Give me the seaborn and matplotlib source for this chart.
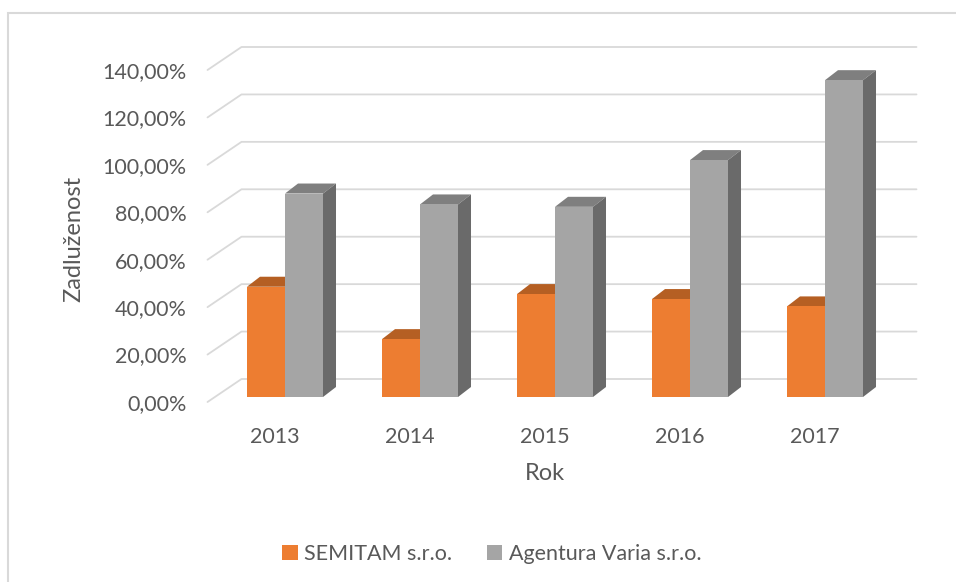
import numpy as np
import pandas as pd
import matplotlib
matplotlib.use("Agg")
import matplotlib.pyplot as plt
from matplotlib.patches import Polygon, Rectangle, Patch
import seaborn as sns

# data
years = ['2013', '2014', '2015', '2016', '2017']
semitam = [46.5, 24.4, 43.4, 41.3, 38.2]
agentura = [85.8, 81.2, 80.2, 99.9, 133.6]
series_names = ['SEMITAM s.r.o.', 'Agentura Varia s.r.o.']
y_ticks = [0, 20, 40, 60, 80, 100, 120, 140]

front_cols = ['#ED7D31', '#A5A5A5']
top_cols = ['#B55F23', '#7F7F7F']
side_cols = ['#A0521D', '#6A6A6A']
text_col = '#595959'

df = pd.DataFrame({
    'Rok': years * 2,
    'Firma': [series_names[0]] * len(years) + [series_names[1]] * len(years),
    'value': semitam + agentura,
})

sns.set_theme(style='white')
plt.rcParams['font.family'] = ['Lato', 'DejaVu Sans']

W, H = 956, 582
fig = plt.figure(figsize=(W / 100, H / 100), dpi=100)
# front plane of the pseudo-3D plot area in pixels
left_px, right_px, top_px, bot_px = 207.5, 882.5, 70, 402
ax = fig.add_axes([left_px / W, 1 - bot_px / H,
                   (right_px - left_px) / W, (bot_px - top_px) / H])
ax.set_xlim(-0.5, 4.5)
ax.set_ylim(0, 140)

ux = (right_px - left_px) / 5.0      # px per category
uy = (bot_px - top_px) / 140.0       # px per percent

# back wall offset and bar depth (pixels -> data)
wall_dx, wall_dy = 34 / ux, 23 / uy
front_dx, front_dy = 10 / ux, 5 / uy
depth_dx, depth_dy = 13 / ux, 10 / uy

# gridlines on the back wall with the diagonal on the side wall
for v in y_ticks:
    ax.plot([-0.5, -0.5 + wall_dx, 4.5 + wall_dx], [v, v + wall_dy, v + wall_dy],
            color='#D9D9D9', lw=1.3, clip_on=False, zorder=0)

sns.barplot(data=df, x='Rok', y='value', hue='Firma', palette=front_cols,
            width=0.563, ax=ax, legend=False, saturation=1, zorder=2)

for k, cont in enumerate(ax.containers):
    z = 2 + k
    for p in cont.patches:
        p.set_x(p.get_x() + front_dx)
        p.set_y(front_dy)
        p.set_zorder(z + 0.5)
        p.set_edgecolor('none')
        x0 = p.get_x()
        x1 = x0 + p.get_width()
        y0 = p.get_y()
        y1 = y0 + p.get_height()
        top = Polygon([(x0, y1), (x1, y1), (x1 + depth_dx, y1 + depth_dy),
                       (x0 + depth_dx, y1 + depth_dy)], closed=True,
                      facecolor=top_cols[k], edgecolor='none', zorder=z, clip_on=False)
        side = Polygon([(x1, y0), (x1 + depth_dx, y0 + depth_dy),
                        (x1 + depth_dx, y1 + depth_dy), (x1, y1)], closed=True,
                       facecolor=side_cols[k], edgecolor='none', zorder=z, clip_on=False)
        ax.add_patch(top)
        ax.add_patch(side)

for s in ax.spines.values():
    s.set_visible(False)

ax.set_yticks(y_ticks)
ax.set_yticklabels([f"{v:.2f}%".replace('.', ',') for v in y_ticks])
ax.tick_params(axis='y', length=0, pad=15, labelsize=15.5, labelcolor=text_col)
ax.tick_params(axis='x', length=0, pad=18, labelsize=15.5, labelcolor=text_col)

ax.set_xlabel('Rok', fontsize=17, color=text_col)
ax.set_ylabel('Zadluženost', fontsize=17, color=text_col)
ax.xaxis.set_label_coords(0.5, -0.185)
ax.yaxis.set_label_coords(-0.183, 0.49)

handles = [Patch(facecolor=c, edgecolor='none') for c in front_cols]
leg = fig.legend(handles, series_names, loc='center', bbox_to_anchor=(492 / W, 1 - 554 / H),
                 ncol=2, frameon=False, fontsize=15.5, handlelength=0.72, handleheight=0.72,
                 handletextpad=0.3, columnspacing=1.6)
for t in leg.get_texts():
    t.set_color(text_col)

# chart border (only top and left edges fall inside the picture)
fig.add_artist(Rectangle((8 / W, -0.1), 1.2, 1.1 - 13 / H, transform=fig.transFigure,
                         fill=False, edgecolor='#D9D9D9', lw=1.5))

fig.savefig('out.png', dpi=100, facecolor='white')
